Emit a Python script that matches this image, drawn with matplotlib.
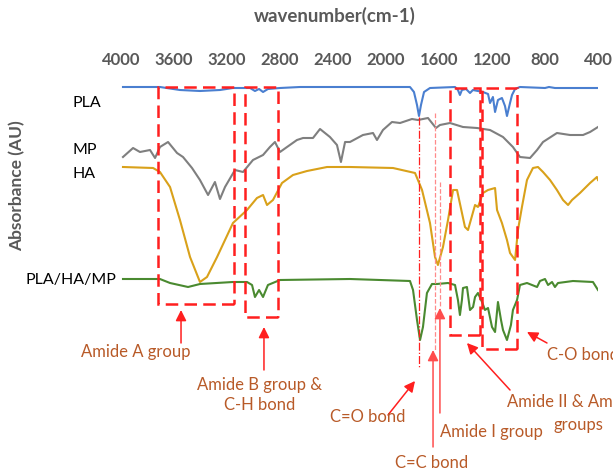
import matplotlib
matplotlib.use("Agg")
import matplotlib.pyplot as plt
from matplotlib.patches import Rectangle

plt.rcParams.update({
    "font.family": ["Lato", "DejaVu Sans"],
    "font.size": 11,
})

# spectra: wavenumber (cm-1) and stacked absorbance (a.u.)
pla_w = [3985, 3706, 3555, 3404, 3253, 3155, 3026, 2989, 2958, 2928, 2891, 2800, 2649,
         1819, 1789, 1766, 1751, 1736, 1713, 1668, 1479, 1457, 1442, 1427, 1396, 1366,
         1344, 1306, 1268, 1230, 1215, 1193, 1177, 1155, 1125, 1102, 1087, 1064, 1049,
         1026, 989, 800, 770, 725, 400]
pla_a = [3.86, 3.86, 3.83, 3.82, 3.83, 3.85, 3.85, 3.82, 3.84, 3.81, 3.84, 3.85, 3.86,
         3.86, 3.81, 3.68, 3.57, 3.68, 3.81, 3.85, 3.86, 3.83, 3.78, 3.83, 3.84, 3.80,
         3.83, 3.82, 3.81, 3.79, 3.70, 3.76, 3.61, 3.73, 3.75, 3.67, 3.57, 3.70, 3.78,
         3.84, 3.86, 3.85, 3.86, 3.85, 3.85]

mp_w = [3985, 3909, 3857, 3781, 3743, 3706, 3645, 3577, 3532, 3464, 3404, 3343, 3291,
        3253, 3215, 3140, 3079, 3004, 2928, 2876, 2838, 2800, 2747, 2672, 2626, 2551,
        2498, 2423, 2370, 2340, 2309, 2272, 2174, 2098, 2068, 2023, 1955, 1894, 1804,
        1759, 1683, 1623, 1593, 1517, 1419, 1313, 1215, 1117, 1042, 989, 913, 860, 815,
        710, 611, 513, 460, 400]
mp_a = [3.16, 3.25, 3.21, 3.23, 3.15, 3.26, 3.31, 3.20, 3.16, 3.05, 2.93, 2.78, 2.91,
        2.74, 2.86, 3.03, 3.01, 3.13, 3.18, 3.26, 3.31, 3.21, 3.26, 3.33, 3.35, 3.35,
        3.44, 3.36, 3.28, 3.11, 3.31, 3.31, 3.38, 3.40, 3.33, 3.43, 3.51, 3.50, 3.54,
        3.53, 3.55, 3.45, 3.48, 3.50, 3.46, 3.45, 3.43, 3.36, 3.26, 3.16, 3.15, 3.23, 3.31,
        3.40, 3.38, 3.38, 3.41, 3.46]

ha_w = [3985, 3758, 3706, 3630, 3555, 3479, 3404, 3351, 3275, 3155, 3049, 2974, 2928,
        2898, 2853, 2785, 2702, 2596, 2445, 2272, 1947, 1781, 1728, 1668, 1630, 1608,
        1570, 1532, 1494, 1464, 1404, 1381, 1328, 1306, 1268, 1230, 1177, 1162, 1125,
        1087, 1064, 1026, 1004, 974, 936, 891, 853, 815, 762, 710, 664, 626, 596, 536,
        460, 408, 400]
ha_a = [3.06, 3.05, 3.01, 2.86, 2.53, 2.16, 1.91, 1.96, 2.16, 2.50, 2.63, 2.75, 2.78,
        2.68, 2.73, 2.90, 2.98, 3.02, 3.06, 3.06, 3.05, 3.00, 2.83, 2.50, 2.16, 2.08,
        2.26, 2.53, 2.83, 2.83, 2.46, 2.43, 2.68, 2.66, 2.80, 2.83, 2.85, 2.63, 2.50,
        2.33, 2.20, 2.13, 2.43, 2.66, 2.93, 3.05, 3.06, 3.01, 2.93, 2.83, 2.73, 2.68, 2.73,
        2.80, 2.90, 2.96, 2.93]

mix_w = [3985, 3706, 3630, 3494, 3404, 3155, 3049, 3011, 2989, 2958, 2928, 2891, 2800,
         2272, 1819, 1796, 1766, 1743, 1721, 1691, 1653, 1615, 1532, 1479, 1457, 1442,
         1427, 1419, 1389, 1366, 1343, 1328, 1306, 1275, 1253, 1230, 1200, 1177, 1155,
         1132, 1117, 1087, 1057, 1042, 1011, 989, 936, 860, 838, 800, 777, 747, 725, 702,
         589, 438, 400]
mix_a = [1.94, 1.94, 1.90, 1.86, 1.89, 1.91, 1.91, 1.88, 1.76, 1.83, 1.76, 1.88, 1.93,
         1.94, 1.92, 1.83, 1.53, 1.33, 1.46, 1.80, 1.89, 1.89, 1.90, 1.88, 1.73, 1.58,
         1.73, 1.85, 1.86, 1.63, 1.66, 1.76, 1.80, 1.71, 1.63, 1.65, 1.46, 1.41, 1.71,
         1.53, 1.43, 1.33, 1.48, 1.63, 1.73, 1.88, 1.90, 1.86, 1.92, 1.94, 1.88, 1.91, 1.86,
         1.90, 1.92, 1.91, 1.83]

xticks = [4000, 3600, 3200, 2800, 2400, 2000, 1600, 1200, 800, 400]

# highlighted regions: (w_left, w_right, a_top, a_bottom)
boxes = [(3721, 3147, 3.86, 1.69),
         (3064, 2815, 3.86, 1.56),
         (1517, 1291, 3.85, 1.38),
         (1275, 1011, 3.85, 1.24)]

RED = "#FF1F1F"
BROWN = "#B85A28"
GREY = "#595959"

fig = plt.figure(figsize=(6.13, 4.73), dpi=100)
ax = fig.add_axes([121 / 613, 0, 477 / 613, 398 / 473])
ax.set_xlim(4000, 400)
ax.set_ylim(0, 3.98)

ax.plot(pla_w, pla_a, color="#4A7FD0", lw=1.5)
ax.plot(mp_w, mp_a, color="#7F7F7F", lw=1.5)
ax.plot(ha_w, ha_a, color="#D9A11A", lw=1.5)
ax.plot(mix_w, mix_a, color="#4A8A30", lw=1.5)

for wl, wr, at, ab in boxes:
    ax.add_patch(Rectangle((wr, ab), wl - wr, at - ab, fill=False, ec=RED,
                           lw=1.8, ls=(0, (5, 2.5)), zorder=3))

# marker lines for single bands
ax.plot([1751, 1751], [3.56, 1.05], color=RED, lw=0.9, ls="-.")
ax.plot([1630, 1630], [3.60, 1.23], color="#FF8A8A", lw=0.9, ls="--")
ax.plot([1593, 1593], [2.91, 1.65], color="#FF8A8A", lw=0.9, ls="--")

arrows = [
    ((3547, 1.30), (3547, 1.63), RED),
    ((2921, 1.03), (2921, 1.46), RED),
    ((1985, 0.58), (1781, 0.92), RED),
    ((1645, 0.26), (1645, 1.23), "#FF4D4D"),
    ((1593, 0.60), (1593, 1.65), "#FF4D4D"),
    ((1064, 0.83), (1389, 1.30), RED),
    ((785, 1.30), (936, 1.41), RED),
]
for start, end, c in arrows:
    ax.annotate("", xy=end, xytext=start,
                arrowprops=dict(arrowstyle="-|>", color=c, lw=1.1, mutation_scale=16,
                                shrinkA=0, shrinkB=0))

lab = dict(color=BROWN, fontsize=12, clip_on=False)
ax.text(3887, 1.21, "Amide A group", ha="center", va="center", **lab)
ax.text(2951, 0.78, "Amide B group &\nC-H bond", ha="center", va="center",
        linespacing=1.3, **lab)
ax.text(2140, 0.56, "C=O bond", ha="center", va="center", **lab)
ax.text(1653, 0.10, "C=C bond", ha="center", va="center", **lab)
ax.text(1593, 0.41, "Amide I group", ha="left", va="center", **lab)
ax.text(1087, 0.71, "Amide II & Amide III", ha="left", va="center", **lab)
ax.text(551, 0.48, "groups", ha="center", va="center", **lab)
ax.text(785, 1.18, "C-O bond", ha="left", va="center", **lab)

ax.xaxis.tick_top()
ax.set_xticks(xticks)
ax.tick_params(axis="x", length=0, pad=5, labelsize=12, labelcolor=GREY)
for t in ax.get_xticklabels():
    t.set_fontweight("bold")
ax.set_yticks([])
for s in ax.spines.values():
    s.set_visible(False)

fig.text(335 / 613, 1 - 16 / 473, "wavenumber(cm-1)", ha="center", va="center",
         fontsize=13.5, fontweight="bold", color=GREY)
fig.text(17 / 613, 1 - 186 / 473, "Absorbance (AU)", ha="center", va="center",
         rotation=90, fontsize=12.5, fontweight="bold", color=GREY)

fig.text(73 / 613, 1 - 103 / 473, "PLA", ha="left", va="center", fontsize=11.5)
fig.text(73 / 613, 1 - 150 / 473, "MP", ha="left", va="center", fontsize=11.5)
fig.text(73 / 613, 1 - 174 / 473, "HA", ha="left", va="center", fontsize=11.5)
fig.text(116 / 613, 1 - 280 / 473, "PLA/HA/MP", ha="right", va="center", fontsize=11.5)

fig.savefig("out.png", dpi=100)
